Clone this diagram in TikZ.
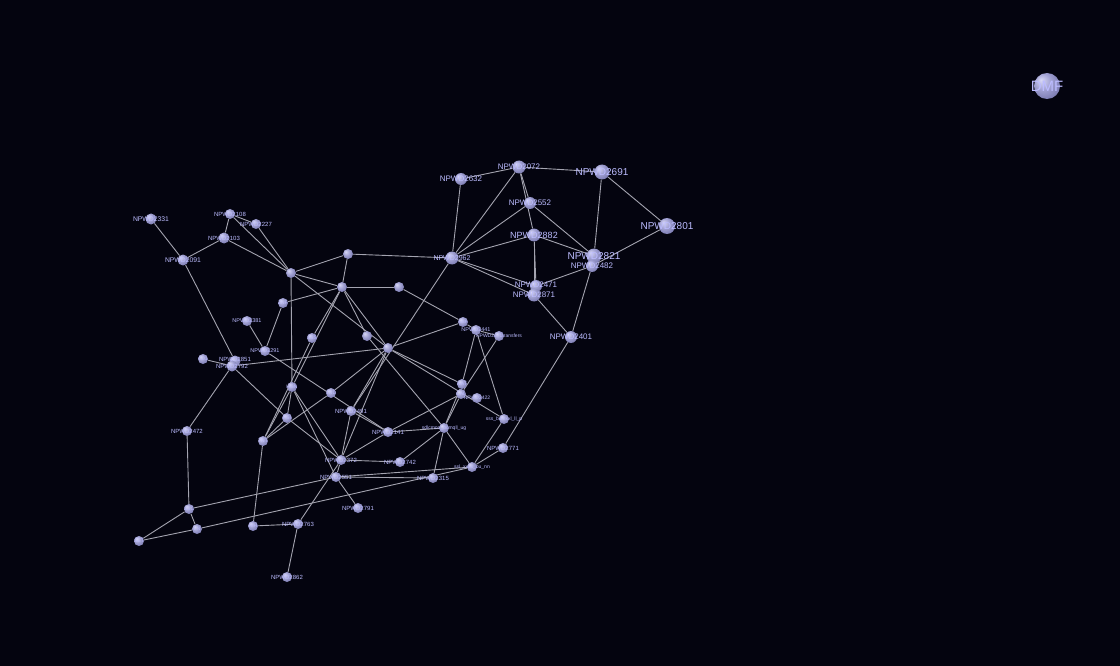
\documentclass[tikz,border=0pt]{standalone}
\usepackage{fontspec}
\setmainfont{Liberation Sans}
\usetikzlibrary{backgrounds}
\definecolor{bgc}{HTML}{04040F}
\definecolor{edgec}{HTML}{A4A4B0}
\definecolor{labc}{HTML}{BCBCFF}
\definecolor{sphhi}{HTML}{D8D8F6}
\definecolor{sphmid}{HTML}{A0A0D2}
\definecolor{sphlo}{HTML}{64649C}
\pgfdeclareradialshading{sphere}{\pgfpoint{-12bp}{12bp}}{color(0bp)=(sphhi); color(16bp)=(sphmid); color(40bp)=(sphlo); color(50bp)=(sphlo)}
\tikzset{
  ball/.style={circle, inner sep=0pt, minimum size=#1, shading=sphere, draw=none},
  lab/.style={text=labc, font=\fontsize{#1}{#1}\selectfont, inner sep=0pt},
  link/.style={draw=edgec, line width=0.9pt}
}
\newcommand\gn[6]{\node[ball=#4] (#1) at (#2,#3) {}; \node[lab=#6] (#1l) at (#1) {#5};}
\newcommand\gb[4]{\node[ball=#4] (#1) at (#2,#3) {};}
\begin{document}
\begin{tikzpicture}[x=1pt,y=-1pt]
\useasboundingbox (0,0) rectangle (1120,666);
% ---- top-right cluster
\gn{n2632}{461}{179}{12pt}{NPWD2632}{8}
\gn{n2072}{519}{167}{13pt}{NPWD2072}{8}
\gn{n2691}{602}{172}{15pt}{NPWD2691}{10}
\gn{n2552}{530}{203}{12pt}{NPWD2552}{8}
\gn{n2882}{534}{235}{13pt}{NPWD2882}{9}
\gn{n2801}{667}{226}{16pt}{NPWD2801}{10}
\gn{n2821}{594}{256}{15pt}{NPWD2821}{10}
\gn{n2482}{592}{266}{12pt}{NPWD2482}{8}
\node[ball=12pt] (n2471) at (536,286) {};
\node[lab=8] (n2471l) at (536,284.5) {NPWD2471};
\node[ball=13pt] (n2871) at (534,295) {};
\node[lab=8] (n2871l) at (534,294.5) {NPWD2871};
\gn{n2401}{571}{337}{12pt}{NPWD2401}{8}
\gn{hub}{452}{258}{13pt}{NPWD2962}{7}
\gn{dmf}{1047}{86}{26pt}{DMF}{15}
% ---- left cluster
\gn{b2331}{151}{219}{11pt}{NPWD2331}{6.8}
\gn{b2091}{183}{260}{11pt}{NPWD2091}{6.8}
\gn{b2108}{230}{214}{10pt}{NPWD2108}{6}
\gn{b2227}{256}{224}{10pt}{NPWD2227}{6}
\gn{b2103}{224}{238}{11pt}{NPWD2103}{6}
\gb{b6}{291}{273}{10pt}
\gb{b7}{348}{254}{10pt}
\gb{b8}{342}{287}{10pt}
\gb{b9}{399}{287}{10pt}
\gn{b10}{283}{303}{10pt}{ZNF}{5}
\gn{b11}{247}{321}{10pt}{NPWD2381}{5.5}
\gn{b12}{265}{351}{10pt}{NPWD2291}{5.5}
\gn{b13}{312}{338}{10pt}{SSS}{5}
\gb{b14}{367}{336}{10pt}
\gb{b15}{388}{348}{10pt}
\gn{b16}{463}{322}{10pt}{NSF}{4.5}
\gn{b17}{476}{330}{10pt}{NPWD2441}{5.5}
\gn{b18}{499}{336}{10pt}{NPWD2071transfers}{5}
\gn{b19}{203}{359}{10pt}{C01}{5}
\node[ball=11pt] (b2851) at (235,361) {};
\node[ball=11pt] (b2792) at (232,366) {};
\node[lab=6] (b2851l) at (235,359) {NPWD2851};
\node[lab=6] (b2792l) at (232,366) {NPWD2792};
\gn{hgn}{292}{387}{10pt}{HGN}{5}
\gn{trd}{331}{393}{10pt}{TRD}{5}
\gn{psi}{287}{418}{10pt}{PSI}{5}
\gn{tnt}{263}{441}{10pt}{TNT}{5}
\gn{b25}{351}{411}{10pt}{NPWD2491}{6}
\gn{b26}{187}{431}{10pt}{NPWD2472}{6}
\gn{b27}{388}{432}{10pt}{NPWD2141}{6}
\gn{b28}{444}{428}{10pt}{sdlcmon\_bcmqll\_ug}{5}
\gn{b29}{462}{384}{10pt}{NAT}{5}
\gn{b30}{461}{394}{10pt}{CAL}{5}
\gn{b30a}{477}{398}{10pt}{NPWD2422}{5}
\gn{b31}{504}{419}{10pt}{sss\_bsmxxl\_ll\_p}{5}
\gn{b32}{503}{448}{10pt}{NPWD2771}{6}
\gn{b33}{472}{467}{10pt}{ssl\_xxxx\_bu\_nn}{5}
\gn{b34}{341}{460}{10pt}{NPWD2372}{6}
\gn{b35}{400}{462}{10pt}{NPWD2742}{6}
\gn{b36}{336}{477}{10pt}{NPWD2551}{6}
\gn{b37}{433}{478}{10pt}{NPWD2315}{6}
\gn{b38}{358}{508}{10pt}{NPWD2791}{6}
\gn{b39}{189}{509}{10pt}{SSC}{5}
\gn{b40}{197}{529}{10pt}{LN}{5}
\gn{b41}{139}{541}{10pt}{SET}{5}
\gn{b42}{253}{526}{10pt}{HIH}{5}
\gn{b43}{298}{524}{10pt}{NPWD2763}{6}
\gn{b44}{287}{577}{10pt}{NPWD2862}{6}
\begin{pgfonlayer}{background}
\fill[bgc] (0,0) rectangle (1120,666);
% top edges
\foreach \a/\b in {n2632/n2072, n2632/hub, n2072/n2691, n2072/hub, n2072/n2552, n2072/n2882,
  n2552/hub, n2552/n2821, n2882/hub, n2882/n2821, n2882/n2471, n2882/n2871, n2691/n2821,
  n2691/n2801, n2801/n2482, hub/n2471, hub/n2871, n2471/n2482, n2871/n2401, n2482/n2401,
  hub/b7, hub/b25, n2401/b32}
  \draw[link] (\a) -- (\b);
% left edges
\foreach \a/\b in {b2331/b2091, b2091/b2103, b2091/b2851, b2108/b2103, b2108/b2227, b2108/b6,
  b2227/b6, b2103/b6, b6/b7, b6/b8, b6/hgn, b6/b15, b7/b8, b8/b9, b9/b16, b8/b14, b8/b15,
  b8/b13, b8/hgn, b13/tnt, b10/b8, b10/b12, b11/b12, b12/b27, b2792/b15, b2792/b19,
  b2792/b26, b2792/psi, b15/b16, b16/b17, b17/b18, b15/b29, b15/b31, b15/trd, b15/b25,
  b15/b34, b14/b28, b17/b29, b17/b31, b18/b30, hgn/tnt, hgn/psi, hgn/b34, hgn/b36,
  trd/tnt, psi/tnt, psi/b34, b25/b27, b25/b34, b27/b34, b27/b30, b28/b29, b28/b30,
  b28/b37, b28/b33, b28/b35, b28/b27, b31/b33, b32/b33, b34/b35, b34/b36, b36/b37,
  b36/b33, b36/b38, b39/b36, b40/b33, b26/b39, b39/b41, b39/b40, b40/b41, tnt/b42,
  b42/b43, b43/b44, b43/b34}
  \draw[link] (\a) -- (\b);
\end{pgfonlayer}
\end{tikzpicture}
\end{document}
